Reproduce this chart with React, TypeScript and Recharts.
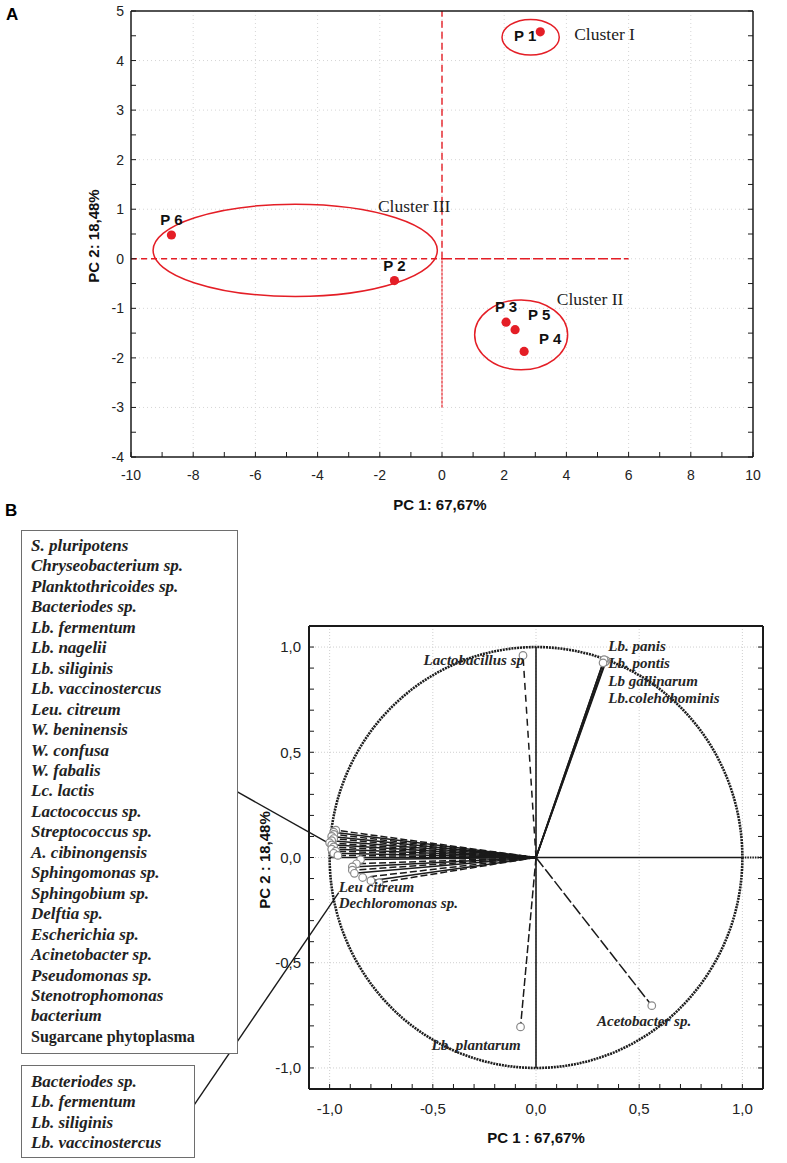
import React from 'react'
import {
  ScatterChart, Scatter, XAxis, YAxis, CartesianGrid, ReferenceLine, ReferenceArea,
} from 'recharts'

// ─── Panel A data: PCA scores ────────────────────────────────────────────────
const SAMPLES = ['P 1', 'P 2', 'P 3', 'P 4', 'P 5', 'P 6']
const SCORE_PC1 = [3.16, -1.53, 2.06, 2.64, 2.35, -8.7]
const SCORE_PC2 = [4.58, -0.44, -1.28, -1.87, -1.43, 0.48]

// cluster ellipses: bounding box in PC units
const CLUSTERS = ['Cluster I', 'Cluster II', 'Cluster III']
const CLUSTER_PC1 = [[1.93, 3.77], [1.05, 4.04], [-9.29, -0.15]]
const CLUSTER_PC2 = [[4.11, 4.83], [-2.24, -0.83], [-0.76, 1.1]]

const A_X_TICKS = [-10, -9, -8, -7, -6, -5, -4, -3, -2, -1, 0, 1, 2, 3, 4, 5, 6, 7, 8, 9, 10]
const A_Y_TICKS = [-4, -3.5, -3, -2.5, -2, -1.5, -1, -0.5, 0, 0.5, 1, 1.5, 2, 2.5, 3, 3.5, 4, 4.5, 5]
const A_X_GRID = [-8, -6, -4, -2, 0, 2, 4, 6, 8]
const A_Y_GRID = [-3, -2, -1, 0, 1, 2, 3, 4]

// ─── Panel B data: loadings ──────────────────────────────────────────────────
const LOAD_NAMES = ['Lactobacillus sp', 'Lb. panis', 'Lb. pontis', 'Lb gallinarum', 'Lb.colehohominis', 'Acetobacter sp.', 'Lb. plantarum']
const LOAD_PC1 = [-0.063, 0.34, 0.335, 0.33, 0.325, 0.561, -0.075]
const LOAD_PC2 = [0.96, 0.935, 0.93, 0.94, 0.925, -0.704, -0.805]

// the crowded bundle near PC1 = -1
const BUNDLE_PC1 = [-0.97, -0.98, -0.98, -0.99, -0.98, -0.99, -1.0, -0.99, -0.98, -0.99, -0.97, -0.98, -0.96,
  -0.85, -0.87, -0.89, -0.89, -0.88, -0.84, -0.8, -0.76]
const BUNDLE_PC2 = [0.13, 0.12, 0.11, 0.1, 0.09, 0.08, 0.07, 0.06, 0.05, 0.04, 0.03, 0.02, 0.01,
  -0.01, -0.03, -0.045, -0.06, -0.075, -0.095, -0.11, -0.12]

const LIST_MAIN = [
  'S. pluripotens', 'Chryseobacterium sp.', 'Planktothricoides sp.', 'Bacteriodes sp.', 'Lb. fermentum',
  'Lb. nagelii', 'Lb. siliginis', 'Lb. vaccinostercus', 'Leu. citreum', 'W. beninensis', 'W. confusa',
  'W. fabalis', 'Lc. lactis', 'Lactococcus sp.', 'Streptococcus sp.', 'A. cibinongensis', 'Sphingomonas sp.',
  'Sphingobium sp.', 'Delftia sp.', 'Escherichia sp.', 'Acinetobacter sp.', 'Pseudomonas sp.',
  'Stenotrophomonas', 'bacterium',
]
const LIST_LAST = 'Sugarcane phytoplasma'
const LIST_SUB = ['Bacteriodes sp.', 'Lb. fermentum', 'Lb. siliginis', 'Lb. vaccinostercus']

const B_TICKS = [-1.1, -1.0, -0.9, -0.8, -0.7, -0.6, -0.5, -0.4, -0.3, -0.2, -0.1, 0,
  0.1, 0.2, 0.3, 0.4, 0.5, 0.6, 0.7, 0.8, 0.9, 1.0, 1.1]
const B_GRID = [-1, -0.5, 0, 0.5, 1]

// ─── Layout / style ──────────────────────────────────────────────────────────
const SANS = "'Liberation Sans', Arial, sans-serif"
const SERIF = "'Liberation Serif', 'Times New Roman', serif"
const RED = '#e41e26'
const INK = '#1a1a1a'

// pixel offsets of the sample labels from their dots
const P_LABEL: Record<string, [number, number, string]> = {
  'P 1': [-4, 4, 'end'],
  'P 2': [0, -15, 'middle'],
  'P 3': [0, -16, 'middle'],
  'P 4': [15, -13, 'start'],
  'P 5': [13, -15, 'start'],
  'P 6': [0, -15, 'middle'],
}
// text anchors (PC units) for annotations
const CLUSTER_LABEL_AT = [[4.25, 4.54], [3.69, -0.81], [-2.06, 1.06]]
const B_LABEL_AT: Record<string, [number, number, string]> = {
  'Lactobacillus sp': [-0.058, 0.94, 'end'],
  'Lb. panis': [0.35, 1.005, 'start'],
  'Lb. pontis': [0.35, 0.924, 'start'],
  'Lb gallinarum': [0.35, 0.838, 'start'],
  'Lb.colehohominis': [0.35, 0.757, 'start'],
  'Acetobacter sp.': [0.524, -0.776, 'middle'],
  'Lb. plantarum': [-0.29, -0.89, 'middle'],
}
const B_EXTRA_LABELS: [string, number, number][] = [
  ['Leu citreum', -0.956, -0.142],
  ['Dechloromonas sp.', -0.956, -0.218],
]
// callout leaders from the boxes to the bundle (PC units)
const CALLOUTS = [
  [[-1.451, 0.314], [-0.995, 0.062]],
  [[-1.677, -1.205], [-0.956, -0.167]],
]

// ─── Shapes ──────────────────────────────────────────────────────────────────
function ellipseShape(stroke: string, strokeWidth: number, dash?: string) {
  return (p: any) => {
    if (p == null || p.x == null) return <g />
    return (
      <ellipse
        cx={p.x + p.width / 2}
        cy={p.y + p.height / 2}
        rx={Math.abs(p.width) / 2}
        ry={Math.abs(p.height) / 2}
        fill="none"
        stroke={stroke}
        strokeWidth={strokeWidth}
        strokeDasharray={dash}
      />
    )
  }
}

function SampleDot(p: any) {
  const [dx, dy, anchor] = P_LABEL[p.payload.name]
  return (
    <g>
      <circle cx={p.cx} cy={p.cy} r={4.6} fill={RED} />
      <text x={p.cx + dx} y={p.cy + dy} textAnchor={anchor as any} dominantBaseline="central"
        fontFamily={SANS} fontWeight={700} fontSize={15} fill="#111">
        {p.payload.name}
      </text>
    </g>
  )
}

function TextMark(p: any) {
  const d = p.payload
  return (
    <text x={p.cx} y={p.cy} textAnchor={d.anchor} dominantBaseline="central"
      fontFamily={SERIF} fontSize={d.size} fontStyle={d.italic ? 'italic' : 'normal'}
      fontWeight={d.bold ? 700 : 400} fill={d.color}>
      {d.text}
    </text>
  )
}

function OpenMarker(p: any) {
  return <circle cx={p.cx} cy={p.cy} r={3.8} fill="#fff" stroke="#8a8a8a" strokeWidth={1.2} />
}

const fmtA = (v: number) => (Number.isInteger(v) && v % 2 === 0 ? String(v) : '')
const fmtAY = (v: number) => (Number.isInteger(v) ? String(v) : '')
const fmtB = (v: number) =>
  Math.abs(v * 2 - Math.round(v * 2)) < 1e-9 ? v.toFixed(1).replace('.', ',') : ''

const abs = (style: React.CSSProperties): React.CSSProperties => ({ position: 'absolute', ...style })

// ─── Component ───────────────────────────────────────────────────────────────
export default function App() {
  const scores = SAMPLES.map((name, i) => ({ name, x: SCORE_PC1[i], y: SCORE_PC2[i] }))
  const clusterText = CLUSTERS.map((text, i) => ({
    text, x: CLUSTER_LABEL_AT[i][0], y: CLUSTER_LABEL_AT[i][1],
    anchor: 'start', size: 17.5, italic: false, bold: false, color: '#222',
  }))

  const loads = LOAD_NAMES.map((name, i) => ({ name, x: LOAD_PC1[i], y: LOAD_PC2[i] }))
  const bundle = BUNDLE_PC1.map((x, i) => ({ x, y: BUNDLE_PC2[i] }))
  const bText = [
    ...LOAD_NAMES.filter((n) => B_LABEL_AT[n]).map((n) => ({
      text: n, x: B_LABEL_AT[n][0], y: B_LABEL_AT[n][1], anchor: B_LABEL_AT[n][2],
    })),
    ...B_EXTRA_LABELS.map(([text, x, y]) => ({ text, x, y, anchor: 'start' })),
  ].map((d) => ({ ...d, size: 15, italic: true, bold: true, color: '#262626' }))

  const tickA = { fontFamily: SANS, fontSize: 14, fill: '#222' }
  const tickB = { fontFamily: SANS, fontSize: 15, fill: '#222' }
  const titleStyle: React.CSSProperties = {
    fontFamily: SANS, fontWeight: 700, fontSize: 15, color: '#111', whiteSpace: 'nowrap',
  }
  const boxText: React.CSSProperties = {
    fontFamily: SERIF, fontWeight: 700, fontStyle: 'italic', fontSize: 17,
    lineHeight: '20.45px', color: '#222', whiteSpace: 'nowrap',
  }

  return (
    <div style={{ position: 'absolute', left: 0, top: 0, width: 787, height: 1163, background: '#fff', overflow: 'hidden' }}>
      {/* ── Panel A ── */}
      <div style={abs({ left: 0, top: 0 })}>
        <ScatterChart width={787} height={520} margin={{ top: 11, right: 34, bottom: 33, left: 91 }}>
          <CartesianGrid verticalValues={A_X_GRID} horizontalValues={A_Y_GRID}
            stroke="#d6d6d6" strokeDasharray="1 3" />
          <XAxis type="number" dataKey="x" domain={[-10, 10]} ticks={A_X_TICKS} interval={0}
            allowDataOverflow tickFormatter={fmtA} height={30} tickSize={-5} tickMargin={18}
            axisLine={{ stroke: INK, strokeWidth: 1.5 }} tickLine={{ stroke: INK }} tick={tickA} />
          <YAxis type="number" dataKey="y" domain={[-4, 5]} ticks={A_Y_TICKS} interval={0}
            allowDataOverflow tickFormatter={fmtAY} width={40} tickSize={-5} tickMargin={12}
            axisLine={{ stroke: INK, strokeWidth: 1.5 }} tickLine={{ stroke: INK }} tick={tickA} />
          <XAxis xAxisId="top" orientation="top" type="number" domain={[-10, 10]} ticks={A_X_TICKS}
            interval={0} allowDataOverflow height={1} mirror tickSize={5} tickFormatter={() => ''}
            axisLine={{ stroke: INK, strokeWidth: 1.5 }} tickLine={{ stroke: INK }} />
          <YAxis yAxisId="right" orientation="right" type="number" domain={[-4, 5]} ticks={A_Y_TICKS}
            interval={0} allowDataOverflow width={1} mirror tickSize={5} tickFormatter={() => ''}
            axisLine={{ stroke: INK, strokeWidth: 1.5 }} tickLine={{ stroke: INK }} />

          <ReferenceLine segment={[{ x: -10, y: 0 }, { x: 0, y: 0 }]} stroke={RED} strokeWidth={1.4} strokeDasharray="6 4" />
          <ReferenceLine segment={[{ x: 0, y: 0 }, { x: 6, y: 0 }]} stroke={RED} strokeWidth={1.4} strokeDasharray="10 3" />
          <ReferenceLine segment={[{ x: 0, y: 0 }, { x: 0, y: 5 }]} stroke={RED} strokeWidth={1.4} strokeDasharray="7 4" />
          <ReferenceLine segment={[{ x: 0, y: -3 }, { x: 0, y: 0 }]} stroke={RED} strokeWidth={1.2} strokeDasharray="3 1" />

          {CLUSTERS.map((c, i) => (
            <ReferenceArea key={c} x1={CLUSTER_PC1[i][0]} x2={CLUSTER_PC1[i][1]}
              y1={CLUSTER_PC2[i][0]} y2={CLUSTER_PC2[i][1]} ifOverflow="visible"
              shape={ellipseShape(RED, 1.5)} />
          ))}

          <Scatter data={clusterText} shape={TextMark} isAnimationActive={false} />
          <Scatter data={scores} shape={SampleDot} isAnimationActive={false} />
        </ScatterChart>
      </div>

      <div style={abs({ left: 6, top: 5, fontFamily: SANS, fontWeight: 700, fontSize: 17 })}>A</div>
      <div style={abs({ left: 440, top: 504, transform: 'translate(-50%, -50%)', ...titleStyle })}>PC 1: 67,67%</div>
      <div style={abs({ left: 92.5, top: 236, transform: 'translate(-50%, -50%) rotate(-90deg)', ...titleStyle })}>PC 2: 18,48%</div>

      {/* ── Panel B ── */}
      <div style={abs({ left: 0, top: 520 })}>
        <ScatterChart width={787} height={643} margin={{ top: 106, right: 24, bottom: 44, left: 269 }}>
          <CartesianGrid verticalValues={B_GRID} horizontalValues={B_GRID}
            stroke="#cfcfcf" strokeDasharray="1 2" />
          <XAxis type="number" dataKey="x" domain={[-1.1, 1.1]} ticks={B_TICKS} interval={0}
            allowDataOverflow tickFormatter={fmtB} height={30} tickSize={-5} tickMargin={19}
            axisLine={{ stroke: INK, strokeWidth: 2 }} tickLine={{ stroke: INK }} tick={tickB} />
          <YAxis type="number" dataKey="y" domain={[-1.1, 1.1]} ticks={B_TICKS} interval={0}
            allowDataOverflow tickFormatter={fmtB} width={40} tickSize={-5} tickMargin={13}
            axisLine={{ stroke: INK, strokeWidth: 2 }} tickLine={{ stroke: INK }} tick={tickB} />
          <XAxis xAxisId="top" orientation="top" type="number" domain={[-1.1, 1.1]} ticks={B_TICKS}
            interval={0} allowDataOverflow height={1} mirror tickSize={5} tickFormatter={() => ''}
            axisLine={{ stroke: INK, strokeWidth: 2 }} tickLine={{ stroke: INK }} />
          <YAxis yAxisId="right" orientation="right" type="number" domain={[-1.1, 1.1]} ticks={B_TICKS}
            interval={0} allowDataOverflow width={1} mirror tickSize={5} tickFormatter={() => ''}
            axisLine={{ stroke: INK, strokeWidth: 2 }} tickLine={{ stroke: INK }} />

          {/* unit circle */}
          <ReferenceArea x1={-1} x2={1} y1={-1} y2={1} ifOverflow="visible"
            shape={ellipseShape('#1e1e1e', 2.6, '2 0.9')} />

          {/* axes through the origin */}
          <ReferenceLine segment={[{ x: 0, y: -1 }, { x: 0, y: 1 }]} stroke={INK} strokeWidth={1.6} />
          <ReferenceLine segment={[{ x: -1, y: 0 }, { x: 1, y: 0 }]} stroke={INK} strokeWidth={1.6} />
          <ReferenceLine segment={[{ x: 1, y: 0 }, { x: 1.1, y: 0 }]} stroke={INK} strokeWidth={2.2} strokeDasharray="1.5 1" />

          {/* loading vectors */}
          {bundle.map((d, i) => (
            <ReferenceLine key={'b' + i} segment={[{ x: 0, y: 0 }, d]} stroke={INK}
              strokeWidth={1.5} strokeDasharray={i % 2 === 0 ? '7 3' : undefined} />
          ))}
          {loads.map((d, i) => (
            <ReferenceLine key={'l' + i} segment={[{ x: 0, y: 0 }, { x: d.x, y: d.y }]} stroke={INK}
              strokeWidth={i >= 1 && i <= 4 ? 1.6 : 1.5}
              strokeDasharray={i === 0 ? '7 5' : i === 5 ? '12 3' : i === 6 ? '8 3' : undefined} />
          ))}

          {/* callout leaders */}
          {CALLOUTS.map((c, i) => (
            <ReferenceLine key={'c' + i} segment={[{ x: c[0][0], y: c[0][1] }, { x: c[1][0], y: c[1][1] }]}
              stroke={INK} strokeWidth={1.4} ifOverflow="visible" />
          ))}

          <Scatter data={bundle} shape={OpenMarker} isAnimationActive={false} />
          <Scatter data={loads} shape={OpenMarker} isAnimationActive={false} />
          <Scatter data={bText} shape={TextMark} isAnimationActive={false} />
        </ScatterChart>
      </div>

      <div style={abs({ left: 5, top: 501, fontFamily: SANS, fontWeight: 700, fontSize: 17 })}>B</div>
      <div style={abs({ left: 536, top: 1137, transform: 'translate(-50%, -50%)', ...titleStyle })}>PC 1 : 67,67%</div>
      <div style={abs({ left: 264, top: 860, transform: 'translate(-50%, -50%) rotate(-90deg)', ...titleStyle })}>PC 2 : 18,48%</div>

      {/* species boxes */}
      <div style={abs({ left: 21, top: 530, width: 217, height: 524, boxSizing: 'border-box', border: '1.5px solid #6e6e6e', background: '#fff', padding: '5px 0 0 9px' })}>
        {LIST_MAIN.map((s) => <div key={s} style={boxText}>{s}</div>)}
        <div style={{ ...boxText, fontStyle: 'normal', fontSize: 16 }}>{LIST_LAST}</div>
      </div>
      <div style={abs({ left: 21, top: 1065, width: 174, height: 93, boxSizing: 'border-box', border: '1.5px solid #6e6e6e', background: '#fff', padding: '6px 0 0 9px' })}>
        {LIST_SUB.map((s) => <div key={s} style={boxText}>{s}</div>)}
      </div>
    </div>
  )
}
